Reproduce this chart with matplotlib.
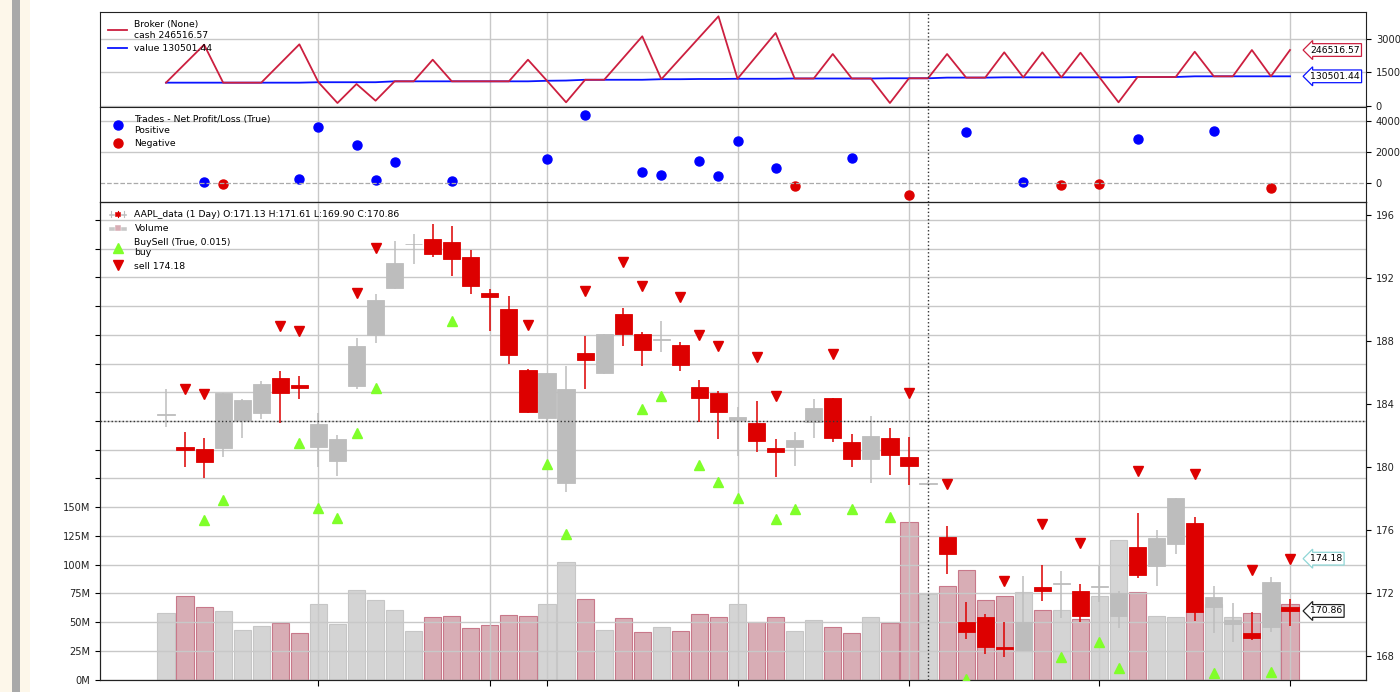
import matplotlib
matplotlib.use('Agg')
import matplotlib.pyplot as plt
from matplotlib.patches import Rectangle
from matplotlib.lines import Line2D
from matplotlib.legend_handler import HandlerBase
from matplotlib.ticker import FuncFormatter

# ---- values: 60 daily AAPL bars ----
opens = [183.33, 181.25, 181.12, 181.19, 182.94, 183.45, 185.63, 185.19, 181.29, 180.40,
         185.16, 188.40, 191.35, 194.14, 194.46, 194.27, 193.31, 191.07, 190.01, 186.14,
         183.09, 179.00, 187.24, 185.95, 189.71, 188.44, 188.09, 187.75, 185.10, 184.68,
         182.98, 182.77, 181.21, 181.29, 182.84, 184.36, 181.61, 180.49, 181.86, 180.62,
         178.94, 175.54, 170.14, 170.46, 168.60, 168.38, 172.36, 172.60, 172.15, 172.38,
         170.54, 174.94, 173.73, 175.11, 176.43, 171.13, 170.03, 169.44, 169.82, 171.13]
highs = [184.95, 182.20, 181.86, 184.70, 184.30, 185.48, 186.11, 185.80, 183.41, 182.03,
         188.21, 190.97, 194.37, 194.77, 195.41, 195.30, 193.78, 191.28, 190.86, 186.20,
         185.97, 186.41, 188.32, 188.45, 190.11, 188.59, 189.29, 187.96, 185.52, 184.84,
         183.83, 184.17, 181.78, 182.20, 184.30, 184.40, 182.08, 183.24, 182.46, 181.92,
         179.05, 176.27, 171.41, 170.65, 170.16, 173.08, 173.78, 173.42, 172.57, 173.71,
         172.10, 177.10, 176.00, 178.01, 176.84, 172.44, 171.35, 170.81, 173.00, 171.61]
lows = [182.56, 180.02, 179.32, 180.62, 181.86, 183.05, 182.78, 184.30, 180.02, 179.43,
        184.93, 187.89, 191.28, 192.89, 193.35, 192.15, 191.00, 188.65, 186.54, 183.45,
        182.93, 178.40, 184.93, 185.90, 187.70, 186.43, 187.32, 186.11, 182.88, 181.78,
        180.72, 180.95, 179.38, 180.06, 181.82, 181.61, 180.02, 178.96, 179.49, 178.86,
        178.90, 173.21, 169.06, 168.11, 167.94, 168.30, 171.49, 170.43, 170.18, 171.45,
        169.77, 172.93, 172.44, 174.48, 170.24, 169.48, 168.91, 169.02, 169.54, 169.90]
closes = [183.37, 181.06, 180.32, 184.68, 184.25, 185.27, 184.68, 185.00, 182.73, 181.78,
          187.70, 190.60, 192.93, 194.18, 193.52, 193.21, 191.47, 190.79, 187.11, 183.49,
          185.95, 184.95, 186.77, 188.43, 188.44, 187.41, 188.13, 186.48, 184.36, 183.47,
          183.20, 181.67, 180.95, 181.71, 183.73, 181.86, 180.51, 181.99, 180.78, 180.08,
          178.98, 174.50, 169.54, 168.55, 168.45, 170.18, 172.15, 172.64, 170.54, 172.42,
          172.02, 173.14, 175.47, 178.01, 170.78, 171.77, 170.29, 169.16, 172.72, 170.86]
vol_m = [58.3, 72.3, 62.7, 59.2, 42.9, 47.0, 49.6, 40.6, 65.9, 47.9,
         78.3, 69.0, 60.3, 42.4, 54.0, 55.1, 44.7, 47.6, 56.3, 55.7,
         65.3, 102.7, 69.9, 43.5, 53.7, 41.2, 45.3, 41.8, 56.8, 54.8,
         65.6, 49.9, 54.0, 41.8, 52.2, 45.3, 40.9, 54.6, 49.4, 136.9,
         74.0, 81.8, 95.5, 68.8, 72.3, 76.3, 60.7, 60.1, 52.8, 73.1,
         121.6, 76.0, 55.7, 54.0, 60.0, 66.0, 54.8, 57.7, 60.0, 65.9]

sell_bar = [1, 2, 6, 7, 10, 11, 19, 22, 24, 25, 27, 28, 29, 31, 32, 35, 39, 41, 44, 46,
            48, 51, 54, 57, 59]
sell_px = [184.95, 184.63, 188.95, 188.65, 191.07, 193.89, 189.02, 191.17, 193.00, 191.49,
           190.81, 188.38, 187.68, 186.96, 184.51, 187.16, 184.68, 178.92, 172.76, 176.38,
           175.19, 179.77, 179.56, 173.46, 174.18]
buy_bar = [2, 3, 7, 8, 9, 10, 11, 15, 20, 21, 25, 26, 28, 29, 30, 32, 33, 36, 38, 42,
           47, 49, 50, 55, 58]
buy_px = [176.63, 177.90, 181.54, 177.38, 176.74, 182.15, 185.04, 189.29, 180.19, 175.73,
          183.66, 184.51, 180.13, 179.05, 178.01, 176.70, 177.31, 177.31, 176.81, 166.52,
          167.92, 168.90, 167.22, 166.94, 167.00]

# broker observer (axis units as drawn)
cash = [1035, 1888, 2740, 1035, 1035, 1035, 1896, 2757, 1055, 121,
        975, 225, 1095, 1095, 2066, 1095, 1095, 1095, 1095, 2066,
        1120, 153, 1165, 1165, 2141, 3117, 1190, 2132, 3074, 4015,
        1210, 2238, 3265, 1222, 1222, 2322, 1222, 1222, 121, 1232,
        1232, 2322, 1262, 1262, 2398, 1275, 2398, 1275, 2380, 1275,
        153, 1290, 1290, 1290, 2425, 1320, 1320, 2501, 1320, 2501]
value = [1035, 1035, 1035, 1035, 1035, 1035, 1035, 1035, 1055, 1055,
         1055, 1055, 1095, 1095, 1095, 1095, 1095, 1095, 1095, 1095,
         1120, 1130, 1165, 1165, 1165, 1165, 1190, 1190, 1200, 1200,
         1210, 1210, 1210, 1222, 1222, 1222, 1222, 1222, 1232, 1232,
         1232, 1262, 1262, 1262, 1275, 1275, 1275, 1275, 1275, 1275,
         1275, 1290, 1290, 1290, 1320, 1320, 1320, 1320, 1320, 1320]

# trades observer
win_bar = [2, 7, 8, 10, 11, 12, 15, 20, 22, 25, 26, 28, 29, 30, 32, 36, 42, 45, 51, 55]
win_pnl = [83, 237, 3570, 2436, 192, 1340, 109, 1558, 4340, 686, 532, 1440, 468, 2673,
           962, 1603, 3250, 83, 2820, 3352]
loss_bar = [3, 33, 39, 47, 49, 58]
loss_pnl = [-83, -173, -750, -128, -83, -301]

month_ticks = [8, 17, 20, 30, 39, 49, 59]
cursor_bar = 40
cursor_px = 182.92

UP = '#bdbdbd'
DOWN = '#dd0000'
VOL_UP = '#d4d4d4'
VOL_DOWN = '#d8adb5'
CASH = '#cc1f3f'
GRID = '#c8c8c8'
XLIM = (-3.465, 62.99)
TAG_X = 60.05

plt.rcParams['axes.edgecolor'] = '#222222'
fig = plt.figure(figsize=(14, 6.92), dpi=100)

# left edge of the screenshot
fig.patches.append(Rectangle((0, 0), 30 / 1400, 1, transform=fig.transFigure,
                             facecolor='#fdf7ea', edgecolor='none'))
fig.patches.append(Rectangle((12 / 1400, 0), 8 / 1400, 1, transform=fig.transFigure,
                             facecolor='#a9a9a9', edgecolor='none'))

L, W = 100 / 1400, 1266 / 1400
ax_b = fig.add_axes([L, 1 - 107 / 692, W, 95 / 692])
ax_t = fig.add_axes([L, 1 - 202 / 692, W, 95 / 692], sharex=ax_b)
ax = fig.add_axes([L, 1 - 679.5 / 692, W, 477.5 / 692], sharex=ax_b)
axv = ax.twinx()


def style(a):
    a.set_xlim(*XLIM)
    a.set_xticks(month_ticks)
    a.grid(axis='x', color=GRID, lw=1)
    a.yaxis.tick_right()
    a.tick_params(axis='y', labelsize=7.1, length=3.5, width=0.8, labelcolor='#222222')
    a.tick_params(axis='x', labelbottom=False)


ii = list(range(len(opens)))

# ---- broker panel ----
style(ax_b)
ax_b.tick_params(axis='x', length=0)
ax_b.plot(ii, value, color='#0a14ff', lw=1.3, label='value 130501.44')
ax_b.plot(ii, cash, color=CASH, lw=1.3, label='Broker (None)\ncash 246516.57')
ax_b.set_ylim(-58, 4209)
ax_b.set_yticks([0, 1500, 3000])
ax_b.grid(axis='y', color=GRID, lw=1)
h, lab = ax_b.get_legend_handles_labels()
ax_b.legend(h[::-1], lab[::-1], loc='upper left', frameon=False, fontsize=6.7)
ax_b.text(TAG_X, cash[-1], '246516.57', fontsize=6.7, ha='left', va='center',
          bbox=dict(boxstyle='larrow,pad=0.2', fc='white', ec=CASH, lw=0.9))
ax_b.text(TAG_X, value[-1], '130501.44', fontsize=6.7, ha='left', va='center',
          bbox=dict(boxstyle='larrow,pad=0.2', fc='white', ec='#0a14ff', lw=0.9))

# ---- trades panel ----
style(ax_t)
ax_t.tick_params(axis='x', length=0)
ax_t.plot(win_bar, win_pnl, 'o', color='#0000ff', ms=6.5, ls='',
          label='Trades - Net Profit/Loss (True)\nPositive')
ax_t.plot(loss_bar, loss_pnl, 'o', color='#dd0000', ms=6.5, ls='', label='Negative')
ax_t.axhline(0, color='#aaaaaa', ls='--', lw=0.9)
ax_t.set_ylim(-1218, 4872)
ax_t.set_yticks([0, 2000, 4000])
ax_t.grid(axis='y', color=GRID, lw=1)
ax_t.get_ygridlines()[0].set_visible(False)
ax_t.legend(loc='upper left', frameon=False, fontsize=6.7)

# ---- price panel with volume overlay ----
style(ax)
ax.tick_params(axis='x', length=4, width=0.8)
ax.set_zorder(axv.get_zorder() + 1)
ax.patch.set_visible(False)

up = [c >= o for o, c in zip(opens, closes)]
axv.bar(ii, vol_m, width=0.9, color=[VOL_UP if u else VOL_DOWN for u in up],
        edgecolor=['#c6c6c6' if u else '#c8788a' for u in up], lw=0.8)
axv.set_ylim(0, 415.7)
axv.yaxis.tick_left()
axv.set_yticks(list(range(0, 401, 25)))
axv.yaxis.set_major_formatter(FuncFormatter(lambda v, p: '%dM' % v if v <= 150 else ''))
axv.tick_params(axis='y', labelsize=7.1, length=3.5, width=0.8, labelcolor='#222222')
axv.grid(axis='y', color=GRID, lw=1)

ccol = [UP if u else DOWN for u in up]
ax.vlines(ii, lows, highs, colors=ccol, lw=1.1, zorder=2)
ax.bar(ii, [abs(c - o) for o, c in zip(opens, closes)], bottom=[min(o, c) for o, c in zip(opens, closes)],
       width=0.9, color=ccol, edgecolor=ccol, lw=0.6, zorder=2.1)
ax.plot(buy_bar, buy_px, '^', color='#80ff2a', ms=7, ls='', zorder=3)
ax.plot(sell_bar, sell_px, 'v', color=DOWN, ms=7, ls='', zorder=3)
ax.set_ylim(166.508, 196.825)
ax.set_yticks([168, 172, 176, 180, 184, 188, 192, 196])
ax.axhline(cursor_px, color='#333333', ls=':', lw=1.0, zorder=4)

ax.text(TAG_X, sell_px[-1], '174.18', fontsize=6.7, ha='left', va='center',
        bbox=dict(boxstyle='larrow,pad=0.2', fc='white', ec='#8fd6d6', lw=0.9))
ax.text(TAG_X, closes[-1], '170.86', fontsize=6.7, ha='left', va='center',
        bbox=dict(boxstyle='larrow,pad=0.2', fc='white', ec='#222222', lw=0.9))

for a in (ax_b, ax_t, ax):
    a.axvline(cursor_bar, color='#333333', ls=':', lw=1.0, zorder=4)


class MiniBars(HandlerBase):
    def __init__(self, cols, hts, wick):
        super().__init__()
        self.cols, self.hts, self.wick = cols, hts, wick

    def create_artists(self, legend, orig_handle, xd, yd, w, h, fs, trans):
        out = []
        bw = w / 3.0
        for k, (c, hh) in enumerate(zip(self.cols, self.hts)):
            x0 = -xd + k * bw
            if self.wick:
                out.append(Line2D([x0 + bw / 2] * 2, [-yd, -yd + h], color=c, lw=0.8,
                                  transform=trans))
                y0 = -yd + h * (1 - hh) / 2
            else:
                y0 = -yd + h * 0.15
            out.append(Rectangle((x0 + bw * 0.1, y0), bw * 0.8, hh * h, fc=c, ec=c,
                                 lw=0.4, transform=trans))
        return out


h_data = Rectangle((0, 0), 1, 1)
h_vol = Rectangle((0, 0), 1, 1)
h_buy = Line2D([], [], marker='^', color='#80ff2a', ls='', ms=7)
h_sell = Line2D([], [], marker='v', color=DOWN, ls='', ms=7)
ax.legend([h_data, h_vol, h_buy, h_sell],
          ['AAPL_data (1 Day) O:171.13 H:171.61 L:169.90 C:170.86', 'Volume',
           'BuySell (True, 0.015)\nbuy', 'sell 174.18'],
          handler_map={h_data: MiniBars([UP, DOWN, UP], [0.12, 0.5, 0.12], True),
                       h_vol: MiniBars(['#c8c8c8', VOL_DOWN, '#c8c8c8'], [0.45, 0.7, 0.45], False)},
          loc='upper left', frameon=False, fontsize=6.7)

fig.savefig('out.png', dpi=100)
